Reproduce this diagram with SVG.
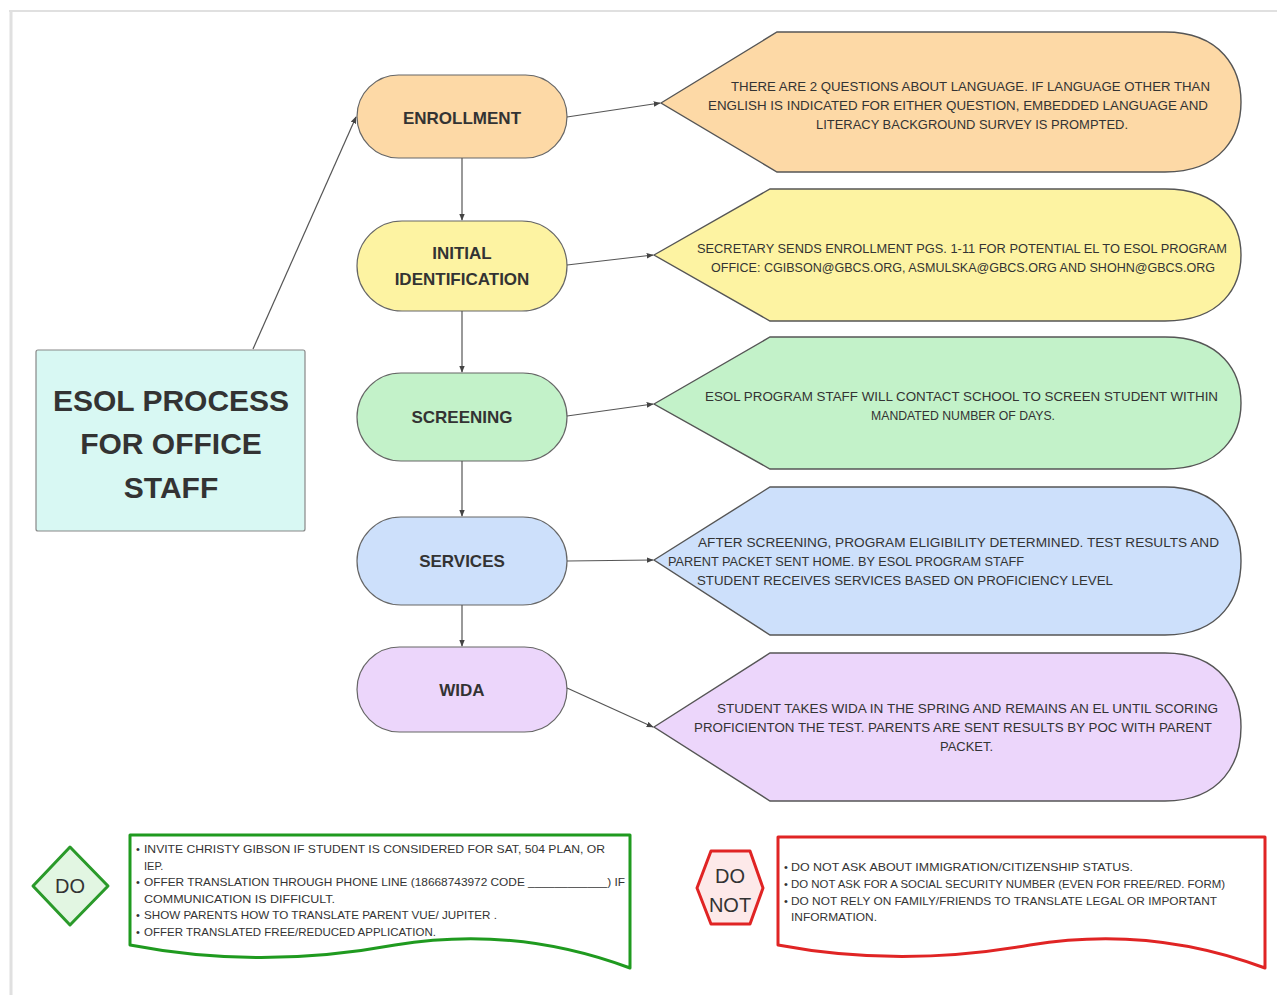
<svg xmlns="http://www.w3.org/2000/svg" width="1277" height="995" viewBox="0 0 1277 995">
<defs>
<marker id="ah" viewBox="0 0 10 10" refX="9" refY="5" markerWidth="7" markerHeight="7" orient="auto" markerUnits="userSpaceOnUse">
<path d="M0,1 L10,5 L0,9 Z" fill="#444"/>
</marker>
</defs>
<style>
text{font-family:"Liberation Sans","DejaVu Sans",sans-serif;fill:#333;}
.node{stroke:#666;stroke-width:1.2;}
.callout{stroke:#555;stroke-width:1.4;}
.lbl{font-size:17px;font-weight:bold;text-anchor:middle;}
.ttl{font-size:30px;font-weight:bold;text-anchor:middle;}
.ct{font-size:12.5px;}
.bt{font-size:11px;}
.conn line{stroke:#555;stroke-width:1.2;marker-end:url(#ah);}
</style>
<rect width="1277" height="995" fill="#fff"/>
<line x1="9" y1="11" x2="1277" y2="11" stroke="#e0e0e0" stroke-width="2"/>
<line x1="11" y1="11" x2="11" y2="995" stroke="#e0e0e0" stroke-width="3"/>

<g id="title">
<rect x="36" y="350" width="269" height="181" rx="2" fill="#d8f8f3" stroke="#888" stroke-width="1.2"/>
<text class="ttl" x="171" y="411">ESOL PROCESS</text>
<text class="ttl" x="171" y="454">FOR OFFICE</text>
<text class="ttl" x="171" y="498">STAFF</text>
</g>

<g id="enrollment">
<rect class="node" x="357" y="75" width="210" height="83" rx="41.5" fill="#fdd9a6"/>
<text class="lbl" x="462" y="124">ENROLLMENT</text>
</g>
<g id="initial-identification">
<rect class="node" x="357" y="221" width="210" height="90" rx="45" fill="#fdf3a2"/>
<text class="lbl" x="462" y="259">INITIAL</text>
<text class="lbl" x="462" y="285">IDENTIFICATION</text>
</g>
<g id="screening">
<rect class="node" x="357" y="373" width="210" height="88" rx="44" fill="#c3f2c9"/>
<text class="lbl" x="462" y="423">SCREENING</text>
</g>
<g id="services">
<rect class="node" x="357" y="517" width="210" height="88" rx="44" fill="#cde0fb"/>
<text class="lbl" x="462" y="567">SERVICES</text>
</g>
<g id="wida">
<rect class="node" x="357" y="647" width="210" height="85" rx="42.5" fill="#ecd6fb"/>
<text class="lbl" x="462" y="696">WIDA</text>
</g>

<g id="callout-enrollment">
<path class="callout" d="M661,103 L777,32 L1165,32 C1222,32 1241,70 1241,102 C1241,135 1222,172 1165,172 L777,172 Z" fill="#fdd9a6"/>
<text class="ct" x="731" y="91" textLength="479" lengthAdjust="spacingAndGlyphs">THERE ARE 2 QUESTIONS ABOUT LANGUAGE.  IF LANGUAGE OTHER THAN</text>
<text class="ct" x="708" y="110" textLength="500" lengthAdjust="spacingAndGlyphs">ENGLISH IS INDICATED FOR EITHER QUESTION, EMBEDDED LANGUAGE AND</text>
<text class="ct" x="816" y="129" textLength="312" lengthAdjust="spacingAndGlyphs">LITERACY BACKGROUND SURVEY IS PROMPTED.</text>
</g>
<g id="callout-identification">
<path class="callout" d="M654,255 L770,189 L1165,189 C1222,189 1241,225 1241,255 C1241,286 1222,321 1165,321 L770,321 Z" fill="#fdf3a2"/>
<text class="ct" x="697" y="253" textLength="530" lengthAdjust="spacingAndGlyphs">SECRETARY SENDS ENROLLMENT PGS. 1-11 FOR POTENTIAL EL TO ESOL PROGRAM</text>
<text class="ct" x="711" y="272" textLength="504" lengthAdjust="spacingAndGlyphs">OFFICE:  CGIBSON@GBCS.ORG, ASMULSKA@GBCS.ORG AND SHOHN@GBCS.ORG</text>
</g>
<g id="callout-screening">
<path class="callout" d="M654,404 L770,337 L1165,337 C1222,337 1241,373 1241,403 C1241,434 1222,469 1165,469 L770,469 Z" fill="#c3f2c9"/>
<text class="ct" x="705" y="401" textLength="513" lengthAdjust="spacingAndGlyphs">ESOL PROGRAM STAFF WILL CONTACT SCHOOL TO SCREEN STUDENT WITHIN</text>
<text class="ct" x="871" y="420" textLength="184" lengthAdjust="spacingAndGlyphs">MANDATED NUMBER OF DAYS.</text>
</g>
<g id="callout-services">
<path class="callout" d="M654,560 L770,487 L1165,487 C1222,487 1241,527 1241,561 C1241,596 1222,635 1165,635 L770,635 Z" fill="#cde0fb"/>
<text class="ct" x="698" y="547" textLength="521" lengthAdjust="spacingAndGlyphs">AFTER SCREENING, PROGRAM ELIGIBILITY DETERMINED.  TEST RESULTS AND</text>
<text class="ct" x="668" y="566" textLength="356" lengthAdjust="spacingAndGlyphs">PARENT PACKET SENT HOME. BY ESOL PROGRAM STAFF</text>
<text class="ct" x="697" y="585" textLength="416" lengthAdjust="spacingAndGlyphs">STUDENT RECEIVES SERVICES BASED ON PROFICIENCY LEVEL</text>
</g>
<g id="callout-wida">
<path class="callout" d="M654,727 L770,653 L1165,653 C1222,653 1241,693 1241,727 C1241,762 1222,801 1165,801 L770,801 Z" fill="#ecd6fb"/>
<text class="ct" x="717" y="713" textLength="501" lengthAdjust="spacingAndGlyphs">STUDENT TAKES WIDA IN THE SPRING AND REMAINS AN EL UNTIL SCORING</text>
<text class="ct" x="694" y="732" textLength="518" lengthAdjust="spacingAndGlyphs">PROFICIENTON THE TEST. PARENTS ARE SENT RESULTS BY POC WITH PARENT</text>
<text class="ct" x="940" y="751" textLength="53" lengthAdjust="spacingAndGlyphs">PACKET.</text>
</g>

<g class="conn" id="connectors">
<line x1="253" y1="349" x2="356" y2="117"/>
<line x1="462" y1="158" x2="462" y2="220"/>
<line x1="462" y1="311" x2="462" y2="372"/>
<line x1="462" y1="461" x2="462" y2="516"/>
<line x1="462" y1="605" x2="462" y2="646"/>
<line x1="567" y1="117" x2="660" y2="103"/>
<line x1="567" y1="265" x2="653" y2="255"/>
<line x1="567" y1="416" x2="653" y2="404"/>
<line x1="567" y1="561" x2="653" y2="560"/>
<line x1="567" y1="688" x2="653" y2="727"/>
</g>

<g id="do-sign">
<path d="M70,847 L108,886 L70,925 L33,886 Z" fill="#e2f6e2" stroke="#2a9a2a" stroke-width="3" stroke-linejoin="round"/>
<text x="70" y="893" font-size="20" text-anchor="middle">DO</text>
</g>
<g id="do-list">
<path d="M130,835 L630,835 L630,968 Q 515,925 395,945 Q 260,970 130,945 Z" fill="#fff" stroke="#1f9a1f" stroke-width="3" stroke-linejoin="round"/>
<text class="bt" x="136" y="853">•</text>
<text class="bt" x="144" y="853" textLength="461" lengthAdjust="spacingAndGlyphs">INVITE CHRISTY GIBSON IF STUDENT IS CONSIDERED FOR SAT, 504 PLAN, OR</text>
<text class="bt" x="144" y="870">IEP.</text>
<text class="bt" x="136" y="886">•</text>
<text class="bt" x="144" y="886" textLength="481" lengthAdjust="spacingAndGlyphs">OFFER TRANSLATION THROUGH PHONE LINE (18668743972 CODE ____________) IF</text>
<text class="bt" x="144" y="903" textLength="191" lengthAdjust="spacingAndGlyphs">COMMUNICATION IS DIFFICULT.</text>
<text class="bt" x="136" y="919">•</text>
<text class="bt" x="144" y="919" textLength="353" lengthAdjust="spacingAndGlyphs">SHOW PARENTS HOW TO TRANSLATE PARENT VUE/ JUPITER .</text>
<text class="bt" x="136" y="936">•</text>
<text class="bt" x="144" y="936" textLength="292" lengthAdjust="spacingAndGlyphs">OFFER TRANSLATED FREE/REDUCED APPLICATION.</text>
</g>

<g id="do-not-sign">
<path d="M711,851 L750,851 L763,888 L750,924 L711,924 L697,888 Z" fill="#fde9e9" stroke="#e02424" stroke-width="3" stroke-linejoin="round"/>
<text x="730" y="883" font-size="20" text-anchor="middle">DO</text>
<text x="730" y="912" font-size="20" text-anchor="middle">NOT</text>
</g>
<g id="do-not-list">
<path d="M778,837 L1265,837 L1265,968 Q 1150,925 1030,945 Q 900,968 778,945 Z" fill="#fff" stroke="#e02424" stroke-width="3" stroke-linejoin="round"/>
<text class="bt" x="784" y="871">•</text>
<text class="bt" x="791" y="871" textLength="342" lengthAdjust="spacingAndGlyphs">DO NOT ASK ABOUT IMMIGRATION/CITIZENSHIP STATUS.</text>
<text class="bt" x="784" y="888">•</text>
<text class="bt" x="791" y="888" textLength="434" lengthAdjust="spacingAndGlyphs">DO NOT ASK FOR A SOCIAL SECURITY NUMBER (EVEN FOR FREE/RED. FORM)</text>
<text class="bt" x="784" y="905">•</text>
<text class="bt" x="791" y="905" textLength="426" lengthAdjust="spacingAndGlyphs">DO NOT RELY ON FAMILY/FRIENDS TO TRANSLATE LEGAL OR IMPORTANT</text>
<text class="bt" x="791" y="921" textLength="86" lengthAdjust="spacingAndGlyphs">INFORMATION.</text>
</g>
</svg>
